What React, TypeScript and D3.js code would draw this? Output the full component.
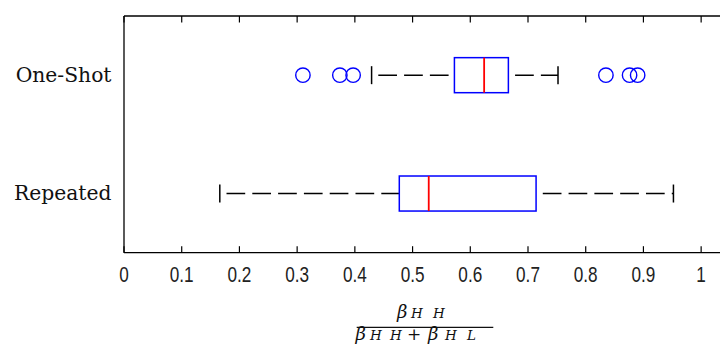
import React from "react";
import * as d3 from "d3";

// Horizontal boxplot summaries, one row per condition
const groups = ["One-Shot", "Repeated"];
const lowerWhisker = [0.429, 0.166];
const q1 = [0.5725, 0.477];
const median = [0.624, 0.528];
const q3 = [0.666, 0.714];
const upperWhisker = [0.752, 0.952];
const outliers: number[][] = [
  [0.31, 0.374, 0.397, 0.835, 0.876, 0.89],
  [],
];
const xTicks = [0, 0.1, 0.2, 0.3, 0.4, 0.5, 0.6, 0.7, 0.8, 0.9, 1];
const xTickLabels = ["0", "0.1", "0.2", "0.3", "0.4", "0.5", "0.6", "0.7", "0.8", "0.9", "1"];

const W = 720;
const H = 354;
const left = 124;
const top = 16;
const bottom = 252.7;
const right = 730;

const BLUE = "#0000ff";
const RED = "#ff0000";
const SERIF = "'DejaVu Serif', 'Liberation Serif', serif";

// glyph runs of the axis-label fraction: [text, x, size, italic]
type Run = [string, number, number, boolean];
const numerRuns: Run[] = [
  ["β", 397, 18, true],
  ["H", 411, 13.5, true],
  ["H", 433, 13.5, true],
];
const denomRuns: Run[] = [
  ["β", 355.5, 18, true],
  ["H", 370, 13.5, true],
  ["H", 390, 13.5, true],
  ["+", 407, 17, false],
  ["β", 428, 18, true],
  ["H", 445, 13.5, true],
  ["L", 467, 13.5, true],
];

export default function App() {
  const x = d3.scaleLinear().domain([0, 1.05]).range([left, right]);
  const y = d3.scaleLinear().domain([0.5, 2.5]).range([top, bottom]);
  const boxHalf = y(1.148) - y(1);
  const capHalf = y(1.076) - y(1);
  const tickLen = 6.5;
  const dash = "18.7 7.1";
  const dashOffset = 19.1;

  const runs = (rs: Run[], baseline: number, key: string) =>
    rs.map(([t, rx, size, it], i) => (
      <text
        key={key + i}
        x={rx}
        y={baseline}
        fontFamily={SERIF}
        fontSize={size}
        fontStyle={it ? "italic" : "normal"}
        fill="#111"
      >
        {t}
      </text>
    ));

  return (
    <svg
      width={W}
      height={H}
      style={{ position: "absolute", left: 0, top: 0, background: "#fff" }}
    >
      <rect x={0} y={0} width={W} height={H} fill="#fff" />
      {/* frame */}
      <line x1={left} y1={top} x2={W} y2={top} stroke="#000" strokeWidth={1.3} />
      <line x1={left} y1={bottom} x2={W} y2={bottom} stroke="#000" strokeWidth={1.3} />
      <line x1={left} y1={top} x2={left} y2={bottom} stroke="#000" strokeWidth={1.3} />

      {/* x ticks top and bottom */}
      {xTicks.map((t, i) => (
        <g key={"t" + i}>
          <line x1={x(t)} x2={x(t)} y1={top} y2={top + tickLen} stroke="#000" strokeWidth={1.2} />
          <line x1={x(t)} x2={x(t)} y1={bottom} y2={bottom - tickLen} stroke="#000" strokeWidth={1.2} />
          <text
            x={x(t)}
            y={282}
            textAnchor="middle"
            fontFamily="'Liberation Sans', Arial, sans-serif"
            fontSize={22}
            fill="#222"
            transform={`translate(${x(t)},0) scale(0.78,1) translate(${-x(t)},0)`}
          >
            {xTickLabels[i]}
          </text>
        </g>
      ))}

      {/* category labels */}
      {groups.map((g, i) => (
        <text
          key={"g" + i}
          x={111.5}
          y={y(i + 1) + 6.8}
          textAnchor="end"
          fontFamily="'DejaVu Serif', serif"
          fontSize={20.3}
          fill="#111"
        >
          {g}
        </text>
      ))}

      {/* boxes */}
      {groups.map((g, i) => {
        const cy = y(i + 1);
        return (
          <g key={"b" + i}>
            {/* whiskers, drawn left to right */}
            <line
              x1={x(lowerWhisker[i])}
              x2={x(q1[i])}
              y1={cy}
              y2={cy}
              stroke="#000"
              strokeWidth={1.4}
              strokeDasharray={dash}
              strokeDashoffset={dashOffset}
            />
            <line
              x1={x(q3[i])}
              x2={x(upperWhisker[i])}
              y1={cy}
              y2={cy}
              stroke="#000"
              strokeWidth={1.4}
              strokeDasharray={dash}
              strokeDashoffset={dashOffset}
            />
            <line
              x1={x(lowerWhisker[i])}
              x2={x(lowerWhisker[i])}
              y1={cy - capHalf}
              y2={cy + capHalf}
              stroke="#000"
              strokeWidth={1.5}
            />
            <line
              x1={x(upperWhisker[i])}
              x2={x(upperWhisker[i])}
              y1={cy - capHalf}
              y2={cy + capHalf}
              stroke="#000"
              strokeWidth={1.5}
            />
            <rect
              x={x(q1[i])}
              y={cy - boxHalf}
              width={x(q3[i]) - x(q1[i])}
              height={2 * boxHalf}
              fill="none"
              stroke={BLUE}
              strokeWidth={1.5}
            />
            <line
              x1={x(median[i])}
              x2={x(median[i])}
              y1={cy - boxHalf}
              y2={cy + boxHalf}
              stroke={RED}
              strokeWidth={1.8}
            />
            {outliers[i].map((v, j) => (
              <circle
                key={"o" + j}
                cx={x(v)}
                cy={cy}
                r={7.2}
                fill="none"
                stroke={BLUE}
                strokeWidth={1.4}
              />
            ))}
          </g>
        );
      })}

      {/* x-axis label: fraction */}
      {runs(numerRuns, 318, "n")}
      <line x1={356.7} x2={493.3} y1={327.3} y2={327.3} stroke="#111" strokeWidth={1.3} />
      {runs(denomRuns, 340, "d")}
    </svg>
  );
}
